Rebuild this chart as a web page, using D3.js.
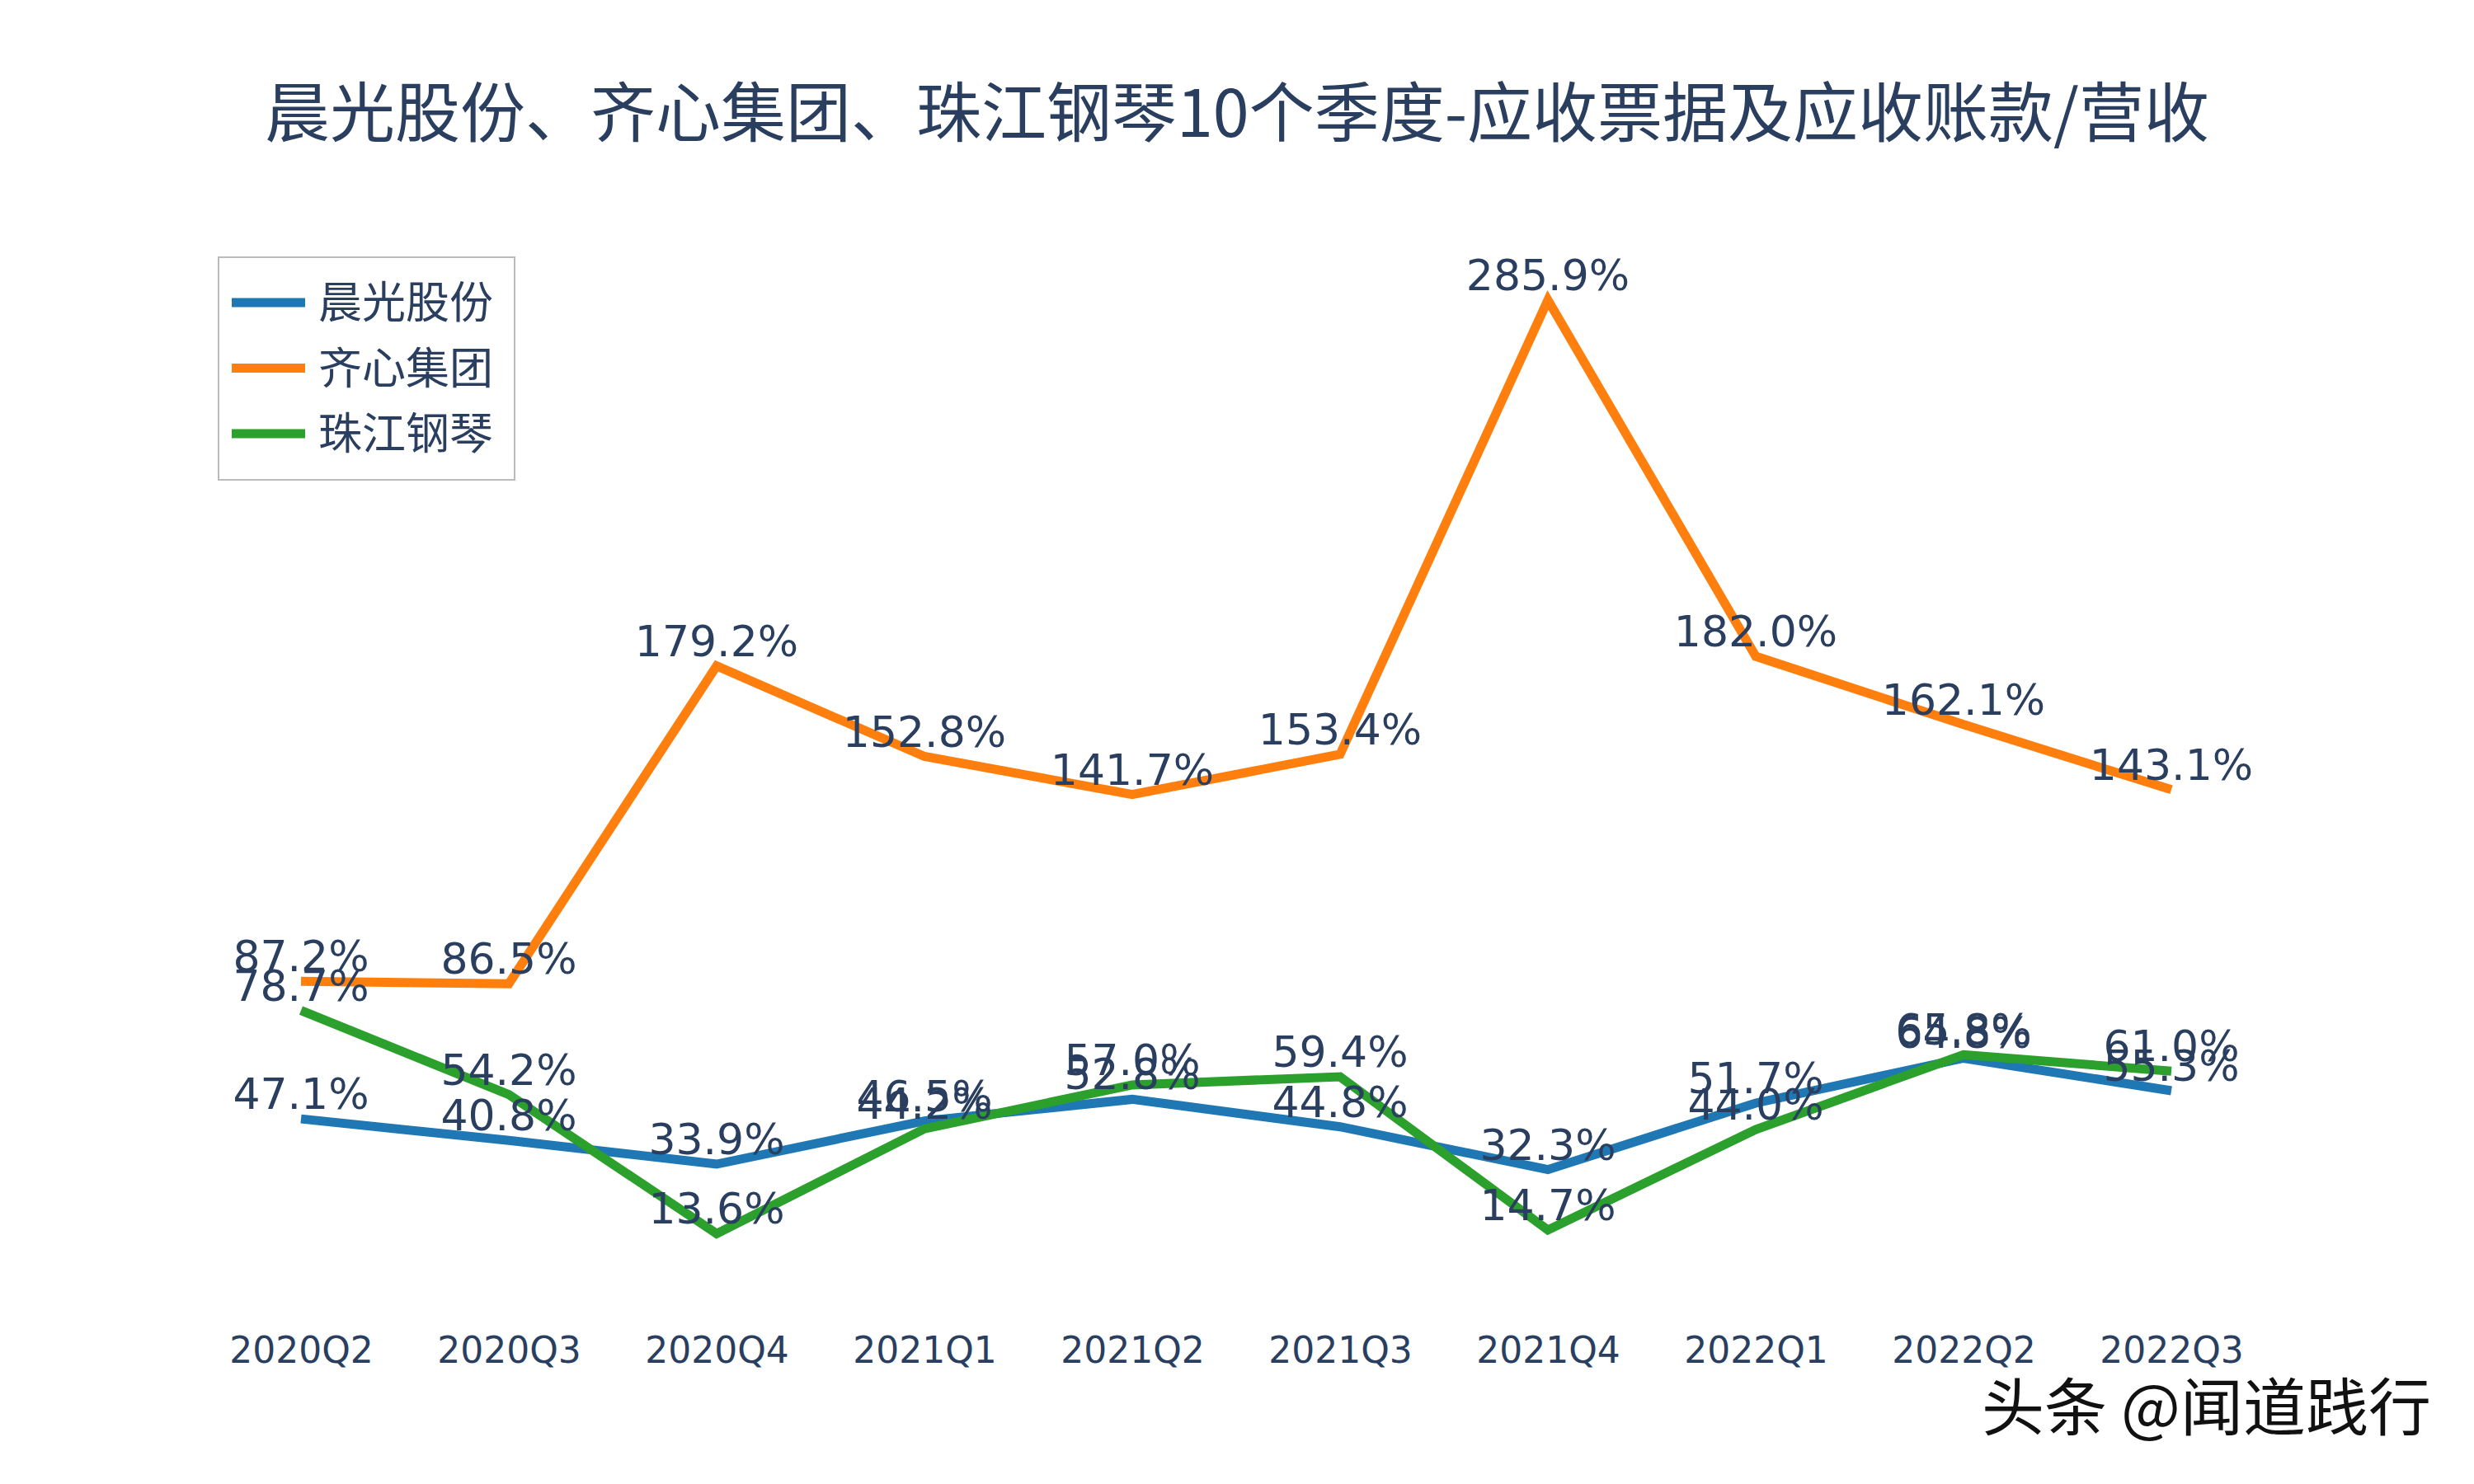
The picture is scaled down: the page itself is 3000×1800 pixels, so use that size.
<!DOCTYPE html>
<html><head><meta charset="utf-8">
<script src="https://cdn.jsdelivr.net/npm/d3@7"></script>
<style>html,body{margin:0;padding:0;background:#fff;}</style>
</head><body>
<script>
const categories = ["2020Q2","2020Q3","2020Q4","2021Q1","2021Q2","2021Q3","2021Q4","2022Q1","2022Q2","2022Q3"];
const chenguang = [47.1, 40.8, 33.9, 46.5, 52.8, 44.8, 32.3, 51.7, 64.8, 55.3];
const qixin = [87.2, 86.5, 179.2, 152.8, 141.7, 153.4, 285.9, 182.0, 162.1, 143.1];
const zhujiang = [78.7, 54.2, 13.6, 44.2, 57.0, 59.4, 14.7, 44.0, 65.8, 61.0];
const seriesNames = ["晨光股份", "齐心集团", "珠江钢琴"];
const seriesColors = ["#1f77b4", "#ff7f0e", "#2ca02c"];
const titleText = "晨光股份、齐心集团、珠江钢琴10个季度-应收票据及应收账款/营收";
const watermark = "头条 @闻道践行";

const W = 3000, H = 1800;
const txt = "#2a3f5f";
const latin = "'DejaVu Sans','Noto Sans CJK SC',sans-serif";
const cjk = "'Noto Sans CJK SC','DejaVu Sans',sans-serif";

const svg = d3.select("body").append("svg").attr("width", W).attr("height", H);
svg.append("rect").attr("width", W).attr("height", H).attr("fill", "#fff");

const x = d3.scalePoint().domain(categories).range([365, 2633]);
const y = d3.scaleLinear().domain([0, 300]).range([1553, 305.3]);

svg.append("text").attr("x", 1500).attr("y", 166).attr("text-anchor", "middle")
  .attr("font-family", cjk).attr("font-size", 79).attr("fill", txt).text(titleText);

// x axis labels
const xAxis = d3.axisBottom(x).tickSize(0).tickPadding(0);
const gx = svg.append("g").attr("transform", "translate(0,1631)").call(xAxis);
gx.select(".domain").remove();
gx.selectAll("text").attr("font-family", latin).attr("font-size", 44).attr("fill", txt).attr("dy", "0.5em");

const data = [chenguang, qixin, zhujiang];
const line = d3.line().x((d, i) => x(categories[i])).y(d => y(d));

data.forEach((vals, k) => {
  svg.append("path").datum(vals).attr("d", line).attr("fill", "none")
    .attr("stroke", seriesColors[k]).attr("stroke-width", 11).attr("stroke-linejoin", "miter");
});
data.forEach((vals, k) => {
  svg.append("g").selectAll("text").data(vals).join("text")
    .attr("x", (d, i) => x(categories[i]))
    .attr("y", d => y(d) - 12)
    .attr("text-anchor", "middle")
    .attr("font-family", latin).attr("font-size", 52).attr("fill", txt)
    .text(d => d.toFixed(1) + "%");
});

// legend
const lg = svg.append("g");
lg.append("rect").attr("x", 265).attr("y", 312).attr("width", 359).attr("height", 270)
  .attr("fill", "#fff").attr("stroke", "#bbb").attr("stroke-width", 2);
seriesNames.forEach((n, k) => {
  const cy = 367 + k * 79.5;
  lg.append("line").attr("x1", 281).attr("x2", 370).attr("y1", cy).attr("y2", cy)
    .attr("stroke", seriesColors[k]).attr("stroke-width", 11);
  lg.append("text").attr("x", 386).attr("y", cy).attr("dy", "0.36em")
    .attr("font-family", cjk).attr("font-size", 53).attr("fill", txt).text(n);
});

svg.append("text").attr("x", 2948).attr("y", 1735).attr("text-anchor", "end")
  .attr("font-family", cjk).attr("font-size", 76).attr("fill", "#111").text(watermark);
</script>
</body></html>
